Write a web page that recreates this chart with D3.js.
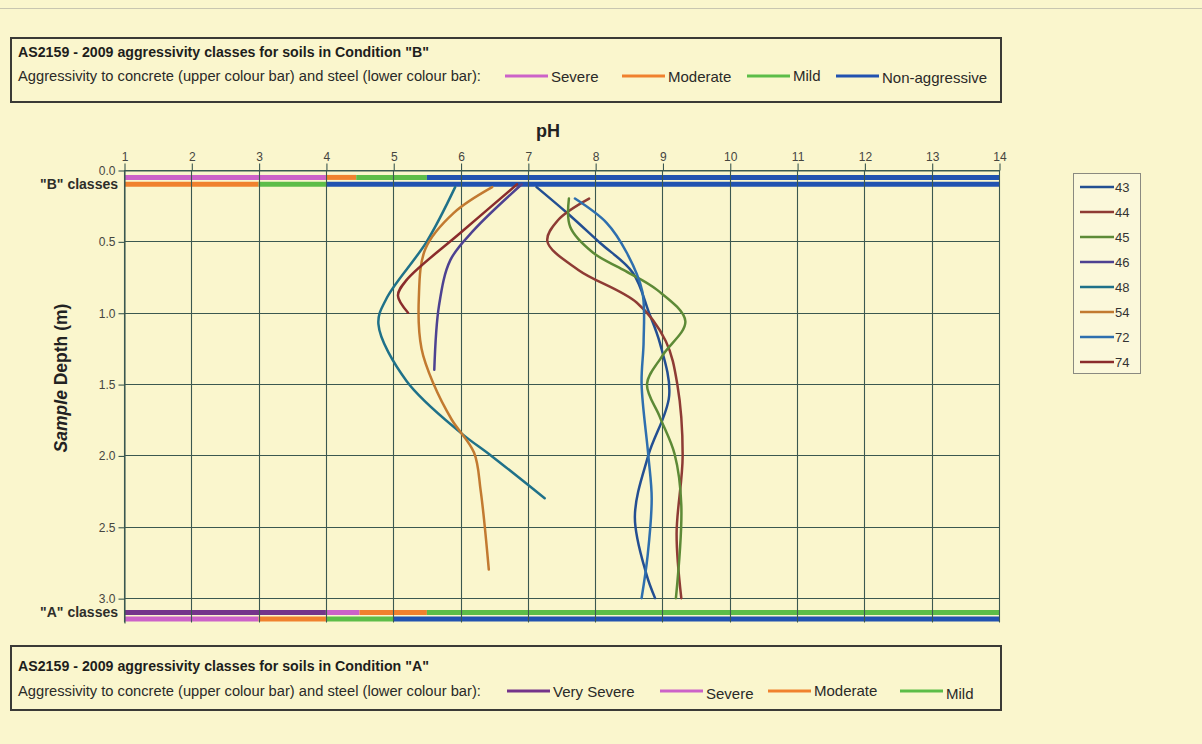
<!DOCTYPE html>
<html>
<head>
<meta charset="utf-8">
<script src="https://cdn.jsdelivr.net/npm/d3@7/dist/d3.min.js"></script>
<style>
  body { margin: 0; background: #faf6cd; }
  svg { font-family: "Liberation Sans", Arial, sans-serif; display: block; }
</style>
</head>
<body>
<div id="chart"></div>
<script>
// axis ticks
const phTicks = d3.range(1, 15);
const depthTicks = [0, 0.5, 1.0, 1.5, 2.0, 2.5, 3.0];

// sample series, each point is [pH, depth (m)]
const seriesNames = ["43", "44", "45", "46", "48", "54", "72", "74"];
const seriesColors = ["#234f92", "#8e3b34", "#5d8a36", "#4d4291", "#1f7189", "#c27a30", "#2e6fae", "#8a2c2c"];
const s43 = [[7.13, 0.12], [7.58, 0.3], [8.07, 0.51], [8.56, 0.72], [8.8, 1.0], [8.96, 1.21], [9.1, 1.58], [8.79, 2.0], [8.59, 2.43], [8.76, 2.83], [8.89, 3.0]];
const s44 = [[7.91, 0.2], [7.45, 0.35], [7.29, 0.5], [7.75, 0.7], [8.62, 0.93], [9.05, 1.2], [9.22, 1.5], [9.3, 2.0], [9.21, 2.55], [9.28, 3.0]];
const s45 = [[7.61, 0.2], [7.63, 0.4], [7.97, 0.58], [8.42, 0.7], [8.92, 0.84], [9.34, 1.06], [9.0, 1.3], [8.77, 1.5], [8.96, 1.73], [9.18, 1.99], [9.28, 2.35], [9.2, 3.0]];
const s46 = [[6.91, 0.1], [6.2, 0.42], [5.85, 0.63], [5.68, 0.95], [5.61, 1.4]];
const s48 = [[5.92, 0.12], [5.5, 0.5], [4.9, 0.9], [4.78, 1.08], [5.2, 1.48], [6.0, 1.84], [6.45, 2.0], [7.25, 2.3]];
const s54 = [[6.47, 0.12], [5.9, 0.3], [5.48, 0.55], [5.38, 0.9], [5.42, 1.25], [5.6, 1.5], [5.87, 1.75], [6.2, 1.98], [6.3, 2.25], [6.42, 2.8]];
const s72 = [[7.7, 0.2], [8.17, 0.37], [8.47, 0.58], [8.7, 0.85], [8.72, 1.2], [8.69, 1.5], [8.79, 2.0], [8.84, 2.3], [8.78, 2.7], [8.69, 3.0]];
const s74 = [[6.84, 0.1], [6.0, 0.44], [5.2, 0.77], [5.07, 0.88], [5.22, 1.0]];
const seriesData = [s43, s44, s45, s46, s48, s54, s72, s74];

// aggressivity classes: [pH from, pH to, class]
const classNames = ["Very Severe", "Severe", "Moderate", "Mild", "Non-aggressive"];
const classColors = ["#74348a", "#cc62c8", "#f0812e", "#5cbd48", "#2152b0"];
const bConcrete = [[1, 4, "Severe"], [4, 4.45, "Moderate"], [4.45, 5.5, "Mild"], [5.5, 14, "Non-aggressive"]];
const bSteel = [[1, 3, "Moderate"], [3, 4, "Mild"], [4, 14, "Non-aggressive"]];
const aConcrete = [[1, 4, "Very Severe"], [4, 4.5, "Severe"], [4.5, 5.5, "Moderate"], [5.5, 14, "Mild"]];
const aSteel = [[1, 3, "Severe"], [3, 4, "Moderate"], [4, 5, "Mild"], [5, 14, "Non-aggressive"]];
const bLegend = ["Severe", "Moderate", "Mild", "Non-aggressive"];
const aLegend = ["Very Severe", "Severe", "Moderate", "Mild"];

const width = 1202;
const height = 744;
const gridColor = "#3b5850";

const classColor = d3.scaleOrdinal().domain(classNames).range(classColors);

const x = d3.scaleLinear().domain([1, 14]).range([124, 999]);
const y = d3.scaleLinear().domain([0, 3.17]).range([170, 622.4]);

const svg = d3.select("#chart")
  .append("svg")
  .attr("width", width)
  .attr("height", height);

svg.append("rect").attr("width", width).attr("height", height).attr("fill", "#faf6cd");
svg.append("line")
  .attr("x1", 0).attr("x2", width).attr("y1", 8.5).attr("y2", 8.5)
  .attr("stroke", "#c8c6b0");

// class bars (drawn under the grid)
const bars = [
  { segs: bConcrete, depth: 0.052 },
  { segs: bSteel, depth: 0.1 },
  { segs: aConcrete, depth: 3.1 },
  { segs: aSteel, depth: 3.147 }
];
bars.forEach(b => {
  svg.append("g").selectAll("line")
    .data(b.segs)
    .join("line")
    .attr("x1", d => x(d[0]))
    .attr("x2", d => x(d[1]))
    .attr("y1", y(b.depth))
    .attr("y2", y(b.depth))
    .attr("stroke", d => classColor(d[2]))
    .attr("stroke-width", 5);
});

// grid
svg.append("g").selectAll("line")
  .data(depthTicks)
  .join("line")
  .attr("x1", x(1)).attr("x2", x(14))
  .attr("y1", d => Math.round(y(d)) + 0.5)
  .attr("y2", d => Math.round(y(d)) + 0.5)
  .attr("stroke", gridColor)
  .attr("stroke-width", 1.1);

svg.append("g").selectAll("line")
  .data(phTicks)
  .join("line")
  .attr("x1", d => Math.round(x(d)) + 0.5)
  .attr("x2", d => Math.round(x(d)) + 0.5)
  .attr("y1", y(0))
  .attr("y2", y(3.17))
  .attr("stroke", gridColor)
  .attr("stroke-width", 1.1);

// axes
const xAxis = svg.append("g")
  .attr("transform", `translate(0.5,${Math.round(y(0)) + 0.5})`)
  .call(d3.axisTop(x).tickValues(phTicks).tickSize(7).tickSizeOuter(0).tickPadding(3));

const yAxis = svg.append("g")
  .attr("transform", `translate(${Math.round(x(1)) + 0.5},0.5)`)
  .call(d3.axisLeft(y).tickValues(depthTicks).tickSize(6).tickSizeOuter(0).tickPadding(3)
    .tickFormat(d3.format(".1f")));

[xAxis, yAxis].forEach(g => {
  g.selectAll("path, line").attr("stroke", gridColor).attr("stroke-width", 1.1);
  g.selectAll("text").attr("fill", "#45453f").style("font-size", "12px");
});

svg.append("text")
  .attr("x", 118).attr("y", y(0.1))
  .attr("dy", "0.35em")
  .attr("text-anchor", "end")
  .attr("fill", "#2e2e2a")
  .style("font-size", "14px")
  .style("font-weight", "bold")
  .text('"B" classes');

svg.append("text")
  .attr("x", 118).attr("y", y(3.1))
  .attr("dy", "0.35em")
  .attr("text-anchor", "end")
  .attr("fill", "#2e2e2a")
  .style("font-size", "14px")
  .style("font-weight", "bold")
  .text('"A" classes');

// axis titles
svg.append("text")
  .attr("x", 548).attr("y", 137)
  .attr("text-anchor", "middle")
  .attr("fill", "#222")
  .style("font-size", "18px")
  .style("font-weight", "bold")
  .text("pH");

const yTitle = svg.append("text")
  .attr("transform", "translate(67,378) rotate(-90)")
  .attr("text-anchor", "middle")
  .attr("fill", "#222")
  .style("font-size", "17.5px")
  .style("font-weight", "bold");
yTitle.append("tspan").style("font-style", "italic").text("Sample");
yTitle.append("tspan").text(" Depth (m)");

// series
const line = d3.line()
  .x(d => x(d[0]))
  .y(d => y(d[1]))
  .curve(d3.curveCatmullRom.alpha(0.5));

svg.append("g").selectAll("path")
  .data(seriesData)
  .join("path")
  .attr("d", d => line(d))
  .attr("fill", "none")
  .attr("stroke", (d, i) => seriesColors[i])
  .attr("stroke-width", 2.5)
  .attr("stroke-linecap", "round");

// series legend
const legendBox = svg.append("g");
legendBox.append("rect")
  .attr("x", 1073.5).attr("y", 173.5)
  .attr("width", 67).attr("height", 200)
  .attr("fill", "#fbf8da")
  .attr("stroke", "#8a8a80");

const legendItem = legendBox.selectAll(".legend")
  .data(seriesNames)
  .join("g")
  .attr("class", "legend")
  .attr("transform", (d, i) => `translate(0,${187 + i * 25})`);

legendItem.append("line")
  .attr("x1", 1080).attr("x2", 1114)
  .attr("stroke", (d, i) => seriesColors[i])
  .attr("stroke-width", 2.5);

legendItem.append("text")
  .attr("x", 1115)
  .attr("dy", "0.35em")
  .attr("fill", "#333")
  .style("font-size", "13px")
  .text(d => d);

// class legend boxes
function classBox(top, condition, items, itemX, itemDy, rows) {
  const g = svg.append("g");
  g.append("rect")
    .attr("x", 11).attr("y", top)
    .attr("width", 990).attr("height", 64)
    .attr("fill", "none")
    .attr("stroke", "#3a3a36")
    .attr("stroke-width", 2);
  g.append("text")
    .attr("x", 18).attr("y", top + rows[0])
    .attr("fill", "#1e1e1c")
    .style("font-size", "14.2px")
    .style("font-weight", "bold")
    .text(`AS2159 - 2009 aggressivity classes for soils in Condition "${condition}"`);
  g.append("text")
    .attr("x", 18).attr("y", top + rows[1])
    .attr("fill", "#2a2a28")
    .style("font-size", "14.7px")
    .text("Aggressivity to concrete (upper colour bar) and steel (lower colour bar):");

  const it = g.selectAll(".item")
    .data(items)
    .join("g")
    .attr("transform", (d, i) => `translate(${itemX[i]},${top + rows[2]})`);
  it.append("line")
    .attr("x1", 0).attr("x2", 43)
    .attr("stroke", d => classColor(d))
    .attr("stroke-width", 3);
  it.append("text")
    .attr("x", 46)
    .attr("y", (d, i) => itemDy[i])
    .attr("dy", "0.35em")
    .attr("fill", "#2a2a28")
    .style("font-size", "15px")
    .text(d => d);
}

classBox(38, "B", bLegend, [505, 622, 747, 836], [1, 1, 0, 2], [19, 43, 38]);
classBox(646, "A", aLegend, [507, 660, 768, 900], [1, 3, 0, 3], [25, 50, 45]);
</script>
</body>
</html>
